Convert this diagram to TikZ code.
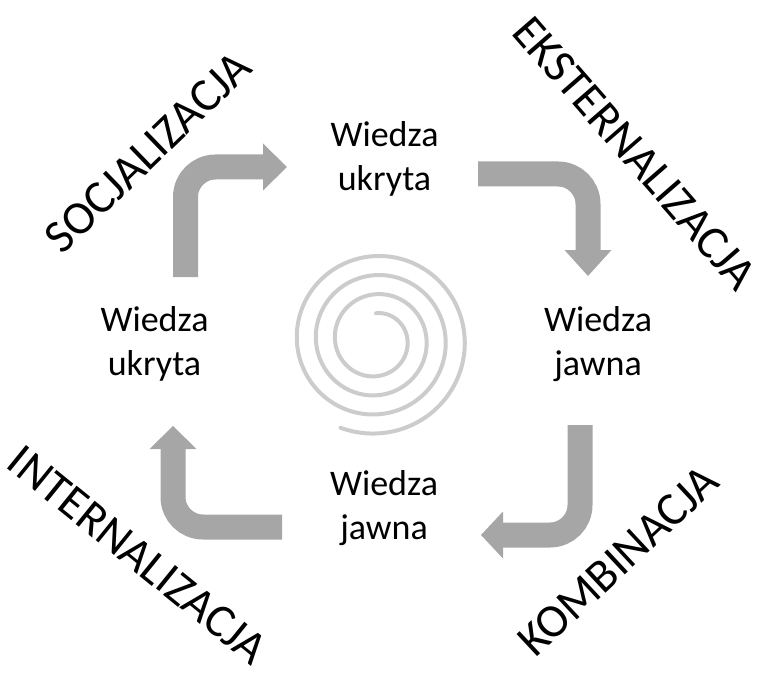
\documentclass[tikz,border=0pt]{standalone}
\usepackage{fontspec}
\setmainfont{Carlito}
\definecolor{arrowgray}{RGB}{166,166,166}
\definecolor{spiralgray}{RGB}{204,204,204}
\tikzset{
  bendarrow/.style={draw=arrowgray, line width=25pt, rounded corners=30pt},
  headtri/.style={fill=arrowgray},
  know/.style={font=\fontsize{36}{44}\selectfont, align=center, anchor=base, inner sep=0pt},
  mode/.style={font=\fontsize{47}{50}\selectfont, inner sep=0pt}
}
\begin{document}
\begin{tikzpicture}[x=1pt, y=-1pt]
\useasboundingbox (0,0) rectangle (758,674);
% spiral
\draw[spiralgray, line width=4pt, line cap=round, smooth]
  plot[domain=-90:1192, samples=500] ({376+(31.5+0.053*\x)*cos(\x)}, {340+(31.5+0.053*\x)*sin(\x)});
% arrows
\coordinate (a1s) at (185.5,277);
\coordinate (a1e) at (264,167);
\draw[bendarrow] (a1s) |- (a1e);
\fill[headtri] (263,143.5) -- (287,167) -- (263,190.5) -- cycle;

\coordinate (a2s) at (478,174);
\coordinate (a2e) at (588,251);
\draw[bendarrow] (a2s) -| (a2e);
\fill[headtri] (564.5,250) -- (588,276) -- (611.5,250) -- cycle;

\coordinate (a3s) at (580,425);
\coordinate (a3e) at (502,535);
\draw[bendarrow] (a3s) |- (a3e);
\fill[headtri] (503,511.5) -- (481,535) -- (503,558.5) -- cycle;

\coordinate (a4s) at (282,527);
\coordinate (a4e) at (173,448);
\draw[bendarrow] (a4s) -| (a4e);
\fill[headtri] (149.5,449) -- (173,426) -- (196.5,449) -- cycle;
% knowledge labels (base = baseline of the last line)
\node[know] (tk) at (384.5,190) {Wiedza\\ukryta};
\node[know] (lk) at (154.5,375) {Wiedza\\ukryta};
\node[know] (rj) at (598,375) {Wiedza\\jawna};
\node[know] (bj) at (384,539) {Wiedza\\jawna};
% mode labels
\node[mode, rotate=44] (soc) at (148,152) {SOCJALIZACJA};
\node[mode, rotate=-49] (eks) at (635,153) {EKSTERNALIZACJA};
\node[mode, rotate=-39] (int) at (138,555) {INTERNALIZACJA};
\node[mode, rotate=43] (kom) at (618,561) {KOMBINACJA};
\end{tikzpicture}
\end{document}
